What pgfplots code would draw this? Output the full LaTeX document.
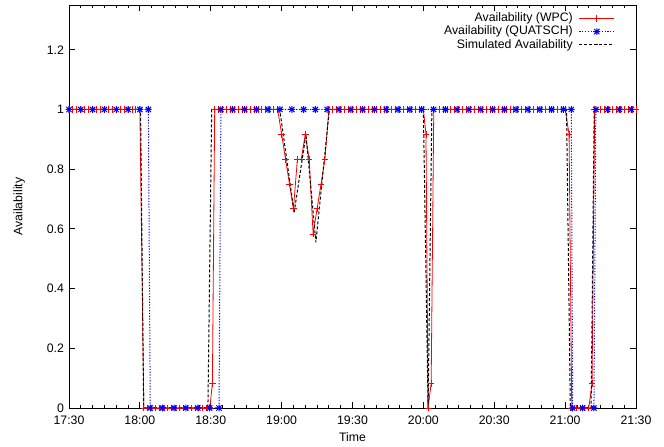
\documentclass[border=0pt]{standalone}
\usepackage{fontspec}
\setmainfont{Liberation Sans}
\usepackage{pgfplots}
\pgfplotsset{compat=1.18}

% gnuplot style point type 3 (plus and cross on top of each other)
\pgfdeclareplotmark{gpstar}{%
  \pgfpathmoveto{\pgfqpoint{-\pgfplotmarksize}{0pt}}\pgfpathlineto{\pgfqpoint{\pgfplotmarksize}{0pt}}%
  \pgfpathmoveto{\pgfqpoint{0pt}{-\pgfplotmarksize}}\pgfpathlineto{\pgfqpoint{0pt}{\pgfplotmarksize}}%
  \pgfpathmoveto{\pgfqpoint{-.8\pgfplotmarksize}{-.8\pgfplotmarksize}}\pgfpathlineto{\pgfqpoint{.8\pgfplotmarksize}{.8\pgfplotmarksize}}%
  \pgfpathmoveto{\pgfqpoint{-.8\pgfplotmarksize}{.8\pgfplotmarksize}}\pgfpathlineto{\pgfqpoint{.8\pgfplotmarksize}{-.8\pgfplotmarksize}}%
  \pgfusepathqstroke}

% x = minutes after 17:30
\pgfplotstableread{
x y
0 1
1.67 1
3.33 1
5 1
6.67 1
8.33 1
10 1
11.67 1
13.33 1
15 1
16.67 1
18.33 1
20 1
21.67 1
23.33 1
25 1
26.67 1
28.33 1
30 1
31.67 0
33.33 0
35 0
36.67 0
38.33 0
40 0
41.67 0
43.33 0
45 0
46.67 0
48.33 0
50 0
51.67 0
53.33 0
55 0
56.67 0
58.33 0
59.6 0
60.7 0.083
61.67 1
63.33 1
65 1
66.67 1
68.33 1
70 1
71.67 1
73.33 1
75 1
76.67 1
78.33 1
80 1
81.67 1
83.33 1
85 1
86.67 1
88.33 1
90 0.917
91.67 0.833
93.33 0.75
95 0.667
96.67 0.833
98.33 0.833
100 0.917
101.67 0.833
103.33 0.583
105 0.667
106.67 0.75
108.33 0.833
110 1
111.67 1
113.33 1
115 1
116.67 1
118.33 1
120 1
121.67 1
123.33 1
125 1
126.67 1
128.33 1
130 1
131.67 1
133.33 1
135 1
136.67 1
138.33 1
140 1
141.67 1
143.33 1
145 1
146.67 1
148.33 1
150 1
151.1 0.917
152 0
153.3 0.083
154.4 1
156.67 1
158.33 1
160 1
161.67 1
163.33 1
165 1
166.67 1
168.33 1
170 1
171.67 1
173.33 1
175 1
176.67 1
178.33 1
180 1
181.67 1
183.33 1
185 1
186.67 1
188.33 1
190 1
191.67 1
193.33 1
195 1
196.67 1
198.33 1
200 1
201.67 1
203.33 1
205 1
206.67 1
208.33 1
210 1
211.67 0.917
212.8 0
215 0
216.67 0
218.33 0
220 0
221.4 0.083
222.5 1
225 1
226.67 1
228.33 1
230 1
231.67 1
233.33 1
235 1
236.67 1
238.33 1
240 1
}\wpc

\pgfplotstableread{
x y
0 1
5 1
10 1
15 1
20 1
25 1
30 1
33.6 1
34.4 0
39.5 0
44.5 0
49.5 0
54.5 0
59.5 0
63.5 0
64.3 1
69.3 1
74.3 1
79.3 1
84.3 1
89.3 1
94.3 1
99.3 1
104.3 1
109.3 1
114.3 1
119.3 1
124.3 1
129.3 1
134.3 1
139.3 1
144.3 1
149.3 1
154.3 1
159.3 1
164.3 1
169.3 1
174.3 1
179.3 1
184.3 1
189.3 1
194.3 1
199.3 1
204.3 1
209.3 1
212.6 1
213.2 0
217.4 0
222.2 0
223 1
228 1
233 1
238 1
}\quatsch

\pgfplotstableread{
x y
0 1
30.3 1
31.6 0
58.8 0
60.4 1
89.2 1
95.3 0.655
100.3 0.916
104.5 0.555
110.2 1
150 1
152 0
153.6 1
210.6 1
212.2 0
221 0
222.3 1
240 1
}\simav

\begin{document}
\begin{tikzpicture}
\begin{axis}[
  scale only axis, width=567pt, height=403pt,
  xmin=0, xmax=240, ymin=0, ymax=1.35,
  clip=false,
  xtick={0,30,60,90,120,150,180,210,240},
  xticklabels={17:30,18:00,18:30,19:00,19:30,20:00,20:30,21:00,21:30},
  minor x tick num=5,
  ytick={0,0.2,0.4,0.6,0.8,1,1.2},
  font=\fontsize{12.3}{14}\selectfont,
  /pgf/number format/assume math mode=true,
  tick align=inside,
  major tick length=6pt, minor tick length=3pt,
  axis line style={line width=0.8pt},
  every tick/.style={black, line width=0.8pt},
  yticklabel style={xshift=-1.5pt},
  xticklabel style={yshift=-4.5pt},
  xlabel={Time}, ylabel={Availability},
  xlabel style={at={(rel axis cs:0.5,-0.073)}, anchor=center},
  ylabel style={at={(rel axis cs:-0.088,0.5)}, anchor=center},
  legend plot pos=right,
  legend cell align=right,
  legend image code/.code={\draw[mark repeat=2,mark phase=2,#1] plot coordinates {(0pt,0pt)(17.5pt,0pt)(35pt,0pt)};},
  legend style={draw=none, fill=none, inner sep=0pt, row sep=0pt,
    at={(rel axis cs:0.963,0.984)}, anchor=north east,
    nodes={inner sep=1pt, text height=8.8pt, text depth=2.5pt},
    /tikz/column sep=5pt},
]
\addplot[color=red, line width=0.8pt, mark=+, mark size=3.3pt, mark options={solid, red, line width=0.9pt}] table {\wpc};
\addlegendentry{Availability (WPC)}
\addplot[color=blue, line width=1pt, dash pattern=on 1.2pt off 1.6pt, mark=gpstar, mark size=3.3pt, mark options={solid, blue, line width=1pt}] table {\quatsch};
\addlegendentry{Availability (QUATSCH)}
\addplot[color=black, line width=1pt, dash pattern=on 3pt off 2pt] table {\simav};
\addlegendentry{Simulated Availability}
\end{axis}
\pgfresetboundingbox
\path[use as bounding box] ([xshift=-69pt,yshift=-39pt]current axis.south west) rectangle ([xshift=28pt,yshift=5pt]current axis.north east);
\end{tikzpicture}
\end{document}
